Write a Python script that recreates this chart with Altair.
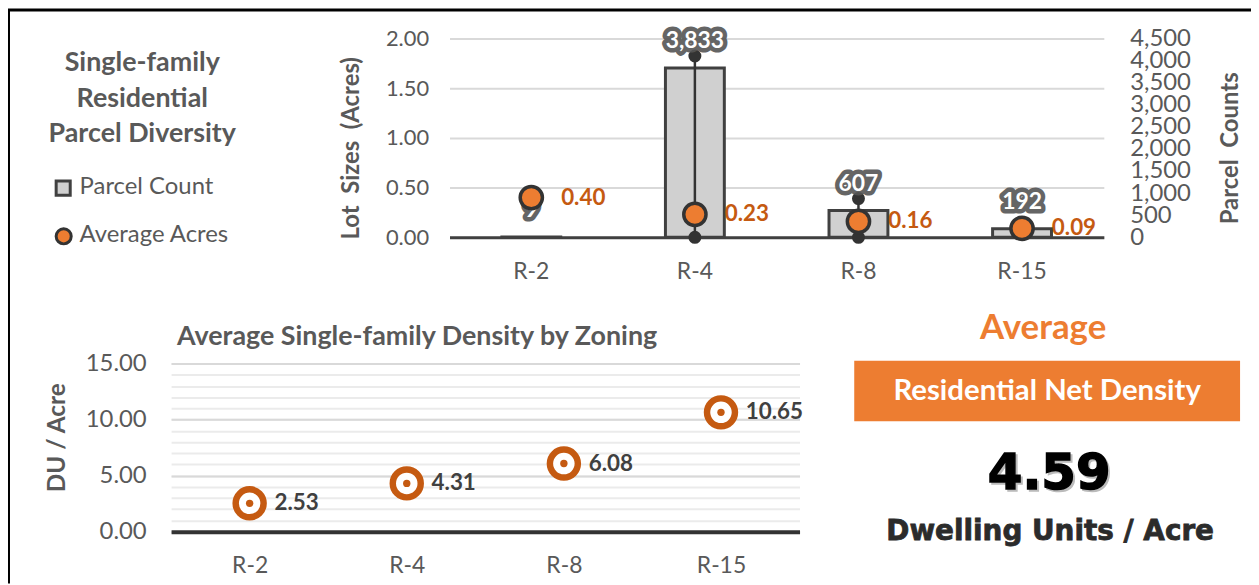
import altair as alt
import pandas as pd

# ---------------- data ----------------
zones = ["R-2", "R-4", "R-8", "R-15"]
parcel_counts = [9, 3833, 607, 192]
avg_acres = [0.40, 0.23, 0.16, 0.09]
density = [2.53, 4.31, 6.08, 10.65]

acre_ticks = [0.0, 0.5, 1.0, 1.5, 2.0]
count_ticks = [0, 500, 1000, 1500, 2000, 2500, 3000, 3500, 4000, 4500]
density_ticks = [0, 5, 10, 15]
density_minor_ticks = list(range(0, 16))

legend_title_lines = ["Single-family", "Residential", "Parcel Diversity"]
legend_labels = ["Parcel Count", "Average Acres"]
left_axis_title = "Lot\u00a0\u00a0Sizes\u00a0\u00a0(Acres)"
right_axis_title = "Parcel\u00a0\u00a0Counts"
density_axis_title = "DU / Acre"
bottom_title = "Average Single-family Density by Zoning"
kpi_heading = "Average"
kpi_box = "Residential Net Density"
kpi_value = "4.59"
kpi_unit = "Dwelling Units / Acre"

top_df = pd.DataFrame({"zone": zones, "count": parcel_counts, "acres": avg_acres})
bot_df = pd.DataFrame({"zone": zones, "density": density})

W, H = 1250, 577
FONT = "Lato"
GRAY = "#595959"
DARK = "#404040"
ORANGE = "#ED7D31"
DORANGE = "#C55A11"

# ---------------- scales ----------------
def xs_top():
    return alt.Scale(domain=zones, range=[444, 1102], paddingInner=0.64, paddingOuter=0.32)

def ys_count():
    return alt.Scale(domain=[0, 4500], range=[229, 29], nice=False)

def ys_acres():
    return alt.Scale(domain=[0, 2], range=[229, 29], nice=False)

def xs_bot():
    return alt.Scale(domain=zones, range=[164, 796], paddingInner=0, paddingOuter=0)

def ys_dens():
    return alt.Scale(domain=[0, 15], range=[525, 356], nice=False)

X_top_noaxis = alt.X("zone:N", sort=zones, scale=xs_top(), axis=None)
X_bot_noaxis = alt.X("zone:N", sort=zones, scale=xs_bot(), axis=None)

def one(text):
    return pd.DataFrame({"t": [text]})

# ---------------- frame ----------------
frame_top = alt.Chart(one("")).mark_rule(color="black", strokeWidth=3).encode(
    x=alt.value(0), x2=alt.value(W), y=alt.value(0.5))
frame_left = alt.Chart(one("")).mark_rule(color="black", strokeWidth=3).encode(
    x=alt.value(0.5), y=alt.value(0), y2=alt.value(H))

# ---------------- top chart ----------------
base_top = alt.Chart(top_df)

bars = base_top.mark_bar(fill="#d0d0d0", stroke=DARK, strokeWidth=3).encode(
    x=alt.X("zone:N", sort=zones, scale=xs_top(),
            axis=alt.Axis(orient="bottom", offset=229 - H, title=None, ticks=False,
                          domainColor=DARK, domainWidth=3, labelFont=FONT, labelFontSize=23,
                          labelColor=GRAY, labelPadding=23, labelAngle=0, grid=False)),
    y=alt.Y("count:Q", scale=ys_count(),
            axis=alt.Axis(orient="right", offset=1102 - W, values=count_ticks,
                          format=",.0f", grid=False, domain=False, ticks=False,
                          labelPadding=26, labelFont=FONT, labelFontSize=24,
                          labelColor=GRAY, labelAlign="left", labelOverlap=False,
                          title=right_axis_title, titleFont=FONT, titleFontSize=24,
                          titleFontWeight="bold", titleColor=GRAY, titleAngle=270,
                          titleX=127, titleY=139, titleAlign="center",
                          titleBaseline="middle")),
)

leader_filter = "datum.count > 500"
leader_rule = base_top.transform_filter(leader_filter).mark_rule(
    color="#333333", strokeWidth=2.5, yOffset=-12).encode(
    x=X_top_noaxis,
    y=alt.Y("count:Q", scale=ys_count(), axis=None),
    y2=alt.datum(0),
)
leader_dot = base_top.transform_filter(leader_filter).mark_circle(
    color="#333333", size=170, opacity=1, yOffset=-12).encode(
    x=X_top_noaxis,
    y=alt.Y("count:Q", scale=ys_count(), axis=None),
)
leader_dot_bottom = base_top.transform_filter(leader_filter).transform_calculate(
    zero="0").mark_circle(color="#333333", size=170, opacity=1).encode(
    x=X_top_noaxis,
    y=alt.Y("zero:Q", scale=ys_count(), axis=None),
)

count_glow = base_top.mark_text(
    dy=-27, font=FONT, fontSize=23, fontWeight="bold", fill="#555555",
    stroke="#555555", strokeWidth=9, strokeJoin="round", opacity=0.9).encode(
    x=X_top_noaxis,
    y=alt.Y("count:Q", scale=ys_count(), axis=None),
    text=alt.Text("count:Q", format=",.0f"),
)
count_text = base_top.mark_text(
    dy=-27, font=FONT, fontSize=23, fontWeight="bold", fill="white").encode(
    x=X_top_noaxis,
    y=alt.Y("count:Q", scale=ys_count(), axis=None),
    text=alt.Text("count:Q", format=",.0f"),
)

acre_pts = base_top.mark_circle(
    fill=ORANGE, stroke="#333333", strokeWidth=3.5, size=500, opacity=1).encode(
    x=X_top_noaxis,
    y=alt.Y("acres:Q", scale=ys_acres(),
            axis=alt.Axis(orient="left", offset=-444, values=acre_ticks, format=".2f",
                          grid=True, gridColor="#d9d9d9", gridWidth=2, domain=False,
                          ticks=False, labelPadding=21, labelFont=FONT, labelFontSize=22,
                          labelColor=GRAY, title=left_axis_title, titleFont=FONT,
                          titleFontSize=24, titleFontWeight="bold", titleColor=GRAY,
                          titleAngle=270, titleX=-99, titleY=139, titleAlign="center",
                          titleBaseline="middle")),
)
acre_labels = base_top.mark_text(
    dx=30, align="left", baseline="middle", font=FONT, fontSize=22.5,
    fontWeight="bold", color=DORANGE).encode(
    x=X_top_noaxis,
    y=alt.Y("acres:Q", scale=ys_acres(), axis=None),
    text=alt.Text("acres:Q", format=".2f"),
)

# ---------------- legend panel ----------------
legend_title = alt.Chart(one("\n".join(legend_title_lines))).mark_text(
    font=FONT, fontSize=27, fontWeight="bold", color=GRAY, align="center",
    baseline="middle", lineBreak="\n", lineHeight=35.5).encode(
    x=alt.value(135), y=alt.value(54), text="t:N")

leg_square = alt.Chart(one("")).mark_square(
    fill="#d0d0d0", stroke=DARK, strokeWidth=3, size=200, opacity=1).encode(
    x=alt.value(55.5), y=alt.value(179.5))
leg_circle = alt.Chart(one("")).mark_circle(
    fill=ORANGE, stroke="#333333", strokeWidth=3, size=230, opacity=1).encode(
    x=alt.value(56), y=alt.value(228))
leg_text1 = alt.Chart(one(legend_labels[0])).mark_text(
    font=FONT, fontSize=24, color=GRAY, align="left", baseline="middle").encode(
    x=alt.value(72), y=alt.value(178), text="t:N")
leg_text2 = alt.Chart(one(legend_labels[1])).mark_text(
    font=FONT, fontSize=24, color=GRAY, align="left", baseline="middle").encode(
    x=alt.value(72), y=alt.value(227), text="t:N")

# ---------------- bottom chart ----------------
base_bot = alt.Chart(bot_df)

minor_grid = base_bot.mark_point(opacity=0).encode(
    x=X_bot_noaxis,
    y=alt.Y("density:Q", scale=ys_dens(),
            axis=alt.Axis(orient="left", offset=-164, values=density_minor_ticks,
                          grid=True, gridColor="#ebebeb", gridWidth=2, labels=False,
                          domain=False, ticks=False, title=None)),
)
rings = base_bot.mark_circle(
    fill="white", stroke=DORANGE, strokeWidth=6.5, size=790, opacity=1).encode(
    x=alt.X("zone:N", sort=zones, scale=xs_bot(),
            axis=alt.Axis(orient="bottom", offset=525 - H, title=None, ticks=False,
                          domainColor="#333333", domainWidth=4, labelFont=FONT,
                          labelFontSize=23, labelColor=GRAY, labelPadding=23,
                          labelAngle=0, grid=False)),
    y=alt.Y("density:Q", scale=ys_dens(),
            axis=alt.Axis(orient="left", offset=-164, values=density_ticks, format=".2f",
                          grid=True, gridColor="#d9d9d9", gridWidth=2, domain=False,
                          ticks=False, labelPadding=25, labelFont=FONT, labelFontSize=24,
                          labelColor=GRAY, title=density_axis_title, titleFont=FONT,
                          titleFontSize=24.5, titleFontWeight="bold", titleColor=GRAY,
                          titleAngle=270, titleX=-114, titleY=430, titleAlign="center",
                          titleBaseline="middle")),
)
centers = base_bot.mark_circle(fill=DORANGE, size=55, opacity=1).encode(
    x=X_bot_noaxis,
    y=alt.Y("density:Q", scale=ys_dens(), axis=None),
)
dens_labels = base_bot.mark_text(
    dx=25, align="left", baseline="middle", font=FONT, fontSize=22.5,
    fontWeight="bold", color=DARK).encode(
    x=X_bot_noaxis,
    y=alt.Y("density:Q", scale=ys_dens(), axis=None),
    text=alt.Text("density:Q", format=".2f"),
)
bot_title = alt.Chart(one(bottom_title)).mark_text(
    font=FONT, fontSize=27, fontWeight="bold", color=GRAY, align="left",
    baseline="middle").encode(x=alt.value(170), y=alt.value(329), text="t:N")

# ---------------- KPI panel ----------------
kpi_head = alt.Chart(one(kpi_heading)).mark_text(
    font=FONT, fontSize=35, fontWeight="bold", color=ORANGE, align="center",
    baseline="middle").encode(x=alt.value(1041), y=alt.value(320), text="t:N")
kpi_rect = alt.Chart(one("")).mark_rect(fill=ORANGE).encode(
    x=alt.value(851), x2=alt.value(1239), y=alt.value(353), y2=alt.value(414))
kpi_box_text = alt.Chart(one(kpi_box)).mark_text(
    font=FONT, fontSize=29.5, fontWeight="bold", color="white", align="center",
    baseline="middle").encode(x=alt.value(1045), y=alt.value(384), text="t:N")
kpi_val_shadow = alt.Chart(one(kpi_value)).mark_text(
    font="DejaVu Sans", fontSize=50, fontWeight="bold", color="#bbbbbb",
    align="center", baseline="middle", dx=2, dy=2, stroke="#bbbbbb",
    strokeWidth=1.5).encode(x=alt.value(1047), y=alt.value(467), text="t:N")
kpi_val = alt.Chart(one(kpi_value)).mark_text(
    font="DejaVu Sans", fontSize=50, fontWeight="bold", color="black",
    align="center", baseline="middle", stroke="black", strokeWidth=1.5).encode(
    x=alt.value(1047), y=alt.value(467), text="t:N")
kpi_unit_text = alt.Chart(one(kpi_unit)).mark_text(
    font="DejaVu Sans", fontSize=28, fontWeight="bold", color="#2b2b2b",
    align="center", baseline="middle", stroke="#2b2b2b", strokeWidth=0.8).encode(
    x=alt.value(1048), y=alt.value(525), text="t:N")

chart = alt.layer(
    frame_top, frame_left,
    bars, leader_rule, leader_dot, leader_dot_bottom, count_glow, count_text,
    acre_pts, acre_labels,
    legend_title, leg_square, leg_circle, leg_text1, leg_text2,
    minor_grid, rings, centers, dens_labels, bot_title,
    kpi_head, kpi_rect, kpi_box_text, kpi_val_shadow, kpi_val, kpi_unit_text,
).resolve_scale(x="independent", y="independent").properties(
    width=W, height=H, autosize=alt.AutoSizeParams(type="none"), padding=0,
    background="white",
).configure_view(stroke=None)

chart.save("out.html", embed_options={"renderer": "svg", "actions": False})
